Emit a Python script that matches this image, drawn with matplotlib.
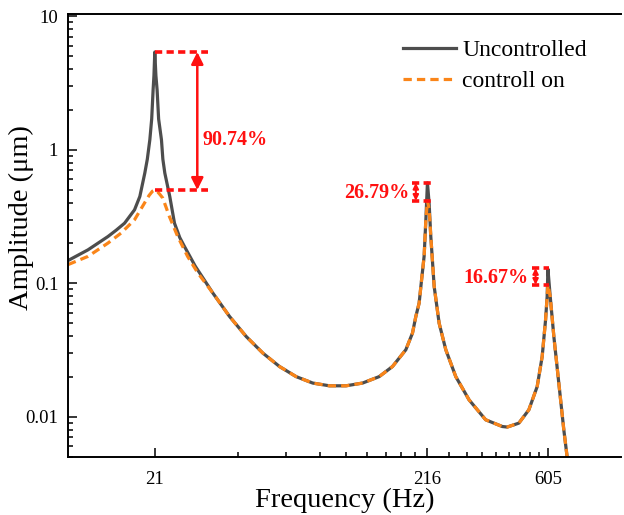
import numpy as np
import matplotlib
matplotlib.use("Agg")
import matplotlib.pyplot as plt

plt.rcParams['font.family'] = ['Liberation Serif', 'DejaVu Serif']

# values
freq_unc = [10.0, 11.86, 14.07, 15.1, 16.22, 17.66, 18.48, 19.28, 19.7, 20.13,
            20.45, 20.7, 20.85, 21.0, 21.2, 21.42, 21.7, 22.23, 22.5, 22.88,
            23.4, 23.87, 24.85, 26.0, 27.05, 29.7, 34.5, 39.8, 45.9, 52.9,
            61.0, 70.3, 81.0, 93.4, 107.7, 124.1, 143.0, 160.2, 179.6, 190.1,
            195.6, 201.2, 204.2, 210.0, 213.1, 216.0, 219.1, 222.3, 228.8, 238.7,
            252.7, 275.2, 308.3, 355.3, 409.5, 427.3, 472.0, 514.0, 552.0, 576.0,
            593.0, 601.0, 605.0, 617.0, 636.5, 664.0, 693.0, 725.0]
amp_unc = [0.148, 0.178, 0.224, 0.25, 0.282, 0.355, 0.447, 0.669, 0.85, 1.19,
           1.7, 2.81, 3.6, 5.4, 3.6, 2.81, 1.7, 1.19, 0.85, 0.669,
           0.54, 0.447, 0.282, 0.22, 0.189, 0.134, 0.0845, 0.0564, 0.0399, 0.030,
           0.0238, 0.020, 0.0179, 0.01707, 0.01707, 0.0179, 0.020, 0.0238, 0.0318, 0.0424,
           0.0564, 0.0711, 0.0946, 0.16, 0.299, 0.565, 0.399, 0.224, 0.0946, 0.0503,
           0.0318, 0.020, 0.0134, 0.0095, 0.00846, 0.00838, 0.00897, 0.01128, 0.01686, 0.0283,
           0.0533, 0.0796, 0.128, 0.0796, 0.0399, 0.0179, 0.008, 0.0038]

freq_on = [10.0, 11.86, 14.07, 15.75, 17.66, 19.23, 20.0, 20.6, 21.0, 21.5,
           22.0, 22.48, 23.8, 25.55, 27.8, 30.3, 34.5, 39.8, 45.9, 52.9,
           61.0, 70.3, 81.0, 93.4, 107.7, 124.1, 143.0, 160.2, 179.6, 190.1,
           195.6, 201.2, 204.2, 210.0, 213.1, 216.0, 219.1, 222.3, 228.8, 238.7,
           252.7, 275.2, 308.3, 355.3, 409.5, 427.3, 472.0, 514.0, 552.0, 576.0,
           593.0, 601.0, 605.0, 617.0, 636.5, 664.0, 693.0, 725.0]
amp_on = [0.138, 0.159, 0.200, 0.238, 0.299, 0.399, 0.455, 0.49, 0.50, 0.485,
          0.46, 0.435, 0.316, 0.224, 0.159, 0.12, 0.0845, 0.0564, 0.0399, 0.030,
          0.0238, 0.020, 0.0179, 0.01707, 0.01707, 0.0179, 0.020, 0.0238, 0.0318, 0.0424,
          0.0564, 0.0711, 0.0946, 0.16, 0.299, 0.415, 0.36, 0.224, 0.0946, 0.0503,
          0.0318, 0.020, 0.0134, 0.0095, 0.00846, 0.00838, 0.00897, 0.01128, 0.01686, 0.0283,
          0.0533, 0.0796, 0.0975, 0.0796, 0.0399, 0.0179, 0.008, 0.0038]

x_ticks = [21, 216, 605]
y_ticks = [0.01, 0.1, 1, 10]
y_labels = ['0.01', '0.1', '1', '10']

# reduction markers: arrow x, dash x range, top, bottom, label
peak1 = dict(xa=30.2, x0=21.0, x1=33.0, top=5.4, bot=0.50, label='90.74%')
peak2 = dict(xa=195.6, x0=190.1, x1=225.4, top=0.565, bot=0.415, label='26.79%')
peak3 = dict(xa=544.4, x0=528.8, x1=609.7, top=0.13, bot=0.0975, label='16.67%')

fig = plt.figure(figsize=(6.24, 5.15), dpi=100)
ax = fig.add_axes([68/624, 58/515, 553/624, 443/515])

gray = '#4d4d4d'
orange = '#FA8519'
red = '#FF1010'

ax.plot(freq_unc, amp_unc, color=gray, lw=2.3, label='Uncontrolled')
ax.plot(freq_on, amp_on, color=orange, lw=2.3, ls=(0, (2.6, 1.6)), label='controll on')

ax.set_xscale('log')
ax.set_yscale('log')
ax.set_xlim(10, 1130)
ax.set_ylim(0.005, 10.4)

ax.set_xticks(x_ticks, [str(t) for t in x_ticks])
minor = np.concatenate([np.linspace(21, 216, 10)[1:-1], np.linspace(216, 605, 10)[1:-1]])
ax.set_xticks(minor, minor=True)
ax.set_yticks(y_ticks, y_labels)

ax.tick_params(which='both', direction='in', labelsize=13.5, width=1.1, top=False, right=False)
ax.tick_params(which='major', length=6.5, pad=7)
ax.tick_params(axis='x', which='major', pad=10)
ax.tick_params(which='minor', length=3.5)
ax.xaxis.set_minor_formatter(plt.NullFormatter())
for s in ['left', 'bottom', 'top']:
    ax.spines[s].set_linewidth(1.4)
ax.spines['right'].set_visible(False)

ax.set_xlabel('Frequency (Hz)', fontsize=20.5, labelpad=0)
ax.set_ylabel('Amplitude (μm)', fontsize=20.5)
ax.yaxis.set_label_coords(-0.062, 0.54)

# reduction brackets
for pk, ms, lw_a in [(peak1, 18, 1.8), (peak2, 8, 1.5), (peak3, 8, 1.5)]:
    for yv in (pk['top'], pk['bot']):
        ax.plot([pk['x0'], pk['x1']], [yv, yv], color=red, lw=2.6, ls=(0, (2.0, 1.2)),
                solid_capstyle='butt')
    ax.annotate('', xy=(pk['xa'], pk['top']), xytext=(pk['xa'], pk['bot']),
                arrowprops=dict(arrowstyle='<|-|>', color=red, lw=lw_a,
                                mutation_scale=ms, shrinkA=0, shrinkB=0))

ax.text(31.6, 1.19, peak1['label'], color=red, fontsize=14.5, fontweight='bold',
        ha='left', va='center')
ax.text(184.8, 0.474, peak2['label'], color=red, fontsize=14.5, fontweight='bold',
        ha='right', va='center')
ax.text(514, 0.109, peak3['label'], color=red, fontsize=14.5, fontweight='bold',
        ha='right', va='center')

ax.legend(loc='upper left', bbox_to_anchor=(0.606, 0.942), frameon=False,
          fontsize=17, handlelength=2.25, handletextpad=0.25, labelspacing=0.4,
          borderpad=0, borderaxespad=0)

fig.savefig('out.png', dpi=100)
